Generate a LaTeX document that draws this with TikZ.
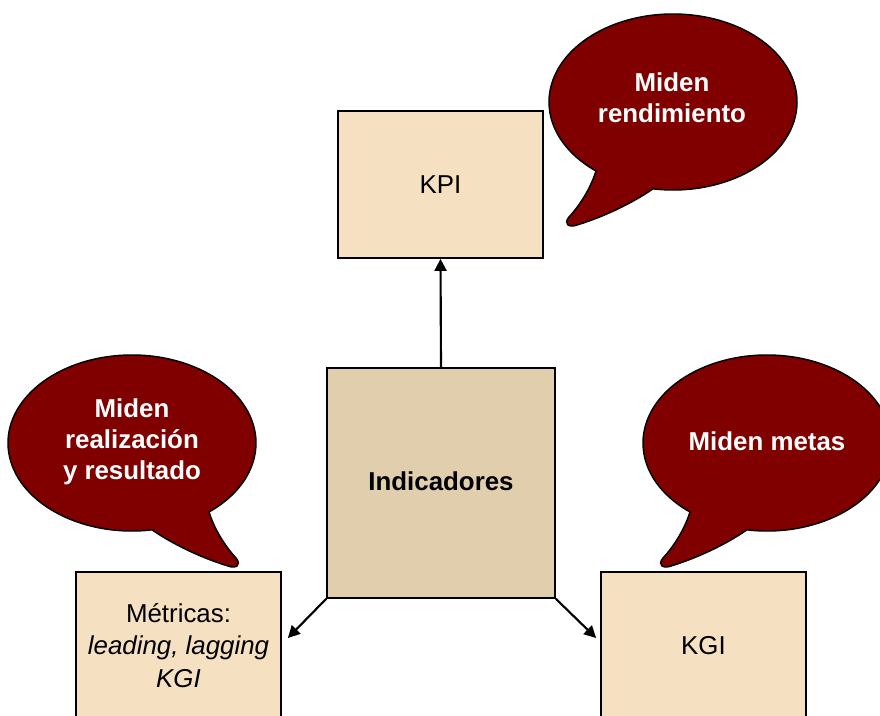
\documentclass[tikz,border=0pt]{standalone}
\usepackage{fontspec}
\setmainfont{Liberation Sans}
\usetikzlibrary{arrows.meta,calc}
\definecolor{boxlight}{HTML}{F5E1C1}
\definecolor{boxdark}{HTML}{E0CEAC}
\definecolor{bubblered}{HTML}{800000}
\begin{document}
\begin{tikzpicture}[x=0.75pt,y=0.75pt,
  card/.style={draw=black,line width=1.3pt,fill=boxlight,minimum width=153.75pt,
    minimum height=110.25pt,inner sep=0pt,align=center,
    font=\fontsize{19.4}{24.4}\selectfont},
  hub/.style={card,fill=boxdark,minimum width=171pt,minimum height=172.5pt,
    font=\fontsize{19.4}{24.4}\selectfont\bfseries},
  bubbleshape/.style={draw=black,line width=1.1pt,fill=bubblered},
  bubbletext/.style={text=white,align=center,inner sep=0pt,
    font=\fontsize{19.4}{23.2}\selectfont\bfseries},
  arr/.style={line width=1.6pt,-{Triangle[length=9pt,width=9pt]}}]
\useasboundingbox (0,0) rectangle (880,-716);
\clip (0,0) rectangle (880,-716);

% speech bubble: ellipse with a curved tail pointing down-left
\newcommand\speechbubble{%
  \draw[bubbleshape] (260.7:124 and 88)
    arc[start angle=260.7,end angle=591.6,x radius=124,y radius=88]
    .. controls (-82,-85) and (-92,-102) .. (-104,-115)
    .. controls (-110,-122) and (-104,-126) .. (-96,-123)
    .. controls (-70,-115) and (-42,-102) .. cycle;}

\begin{scope}[shift={(673,-102)}]\speechbubble\end{scope}
\begin{scope}[shift={(767,-443)}]\speechbubble\end{scope}
\begin{scope}[shift={(132,-443)},xscale=-1]\speechbubble\end{scope}

\node[bubbletext] (b1) at (672,-98) {Miden\\rendimiento};
\node[bubbletext] (b2) at (132,-442) {Miden\\realización\\y resultado};
\node[bubbletext] (b3) at (767,-441) {Miden metas};

% boxes
\node[card] (kpi) at (440.5,-184.5) {KPI};
\node[hub] (ind) at (441,-483) {\raisebox{2.2pt}{Indicadores}};
\node[card] (met) at (178.5,-645.5) {Métricas:\\\itshape leading, lagging\\\itshape KGI};
\node[card] (kgi) at (703.5,-645.5) {KGI};

% connectors
\draw[arr] (ind.north) -- (kpi.south);
\draw[arr] (ind.south west) -- ($(met.east)+(6,7.5)$);
\draw[arr] (ind.south east) -- ($(kgi.west)+(-4,7.5)$);
\end{tikzpicture}
\end{document}
